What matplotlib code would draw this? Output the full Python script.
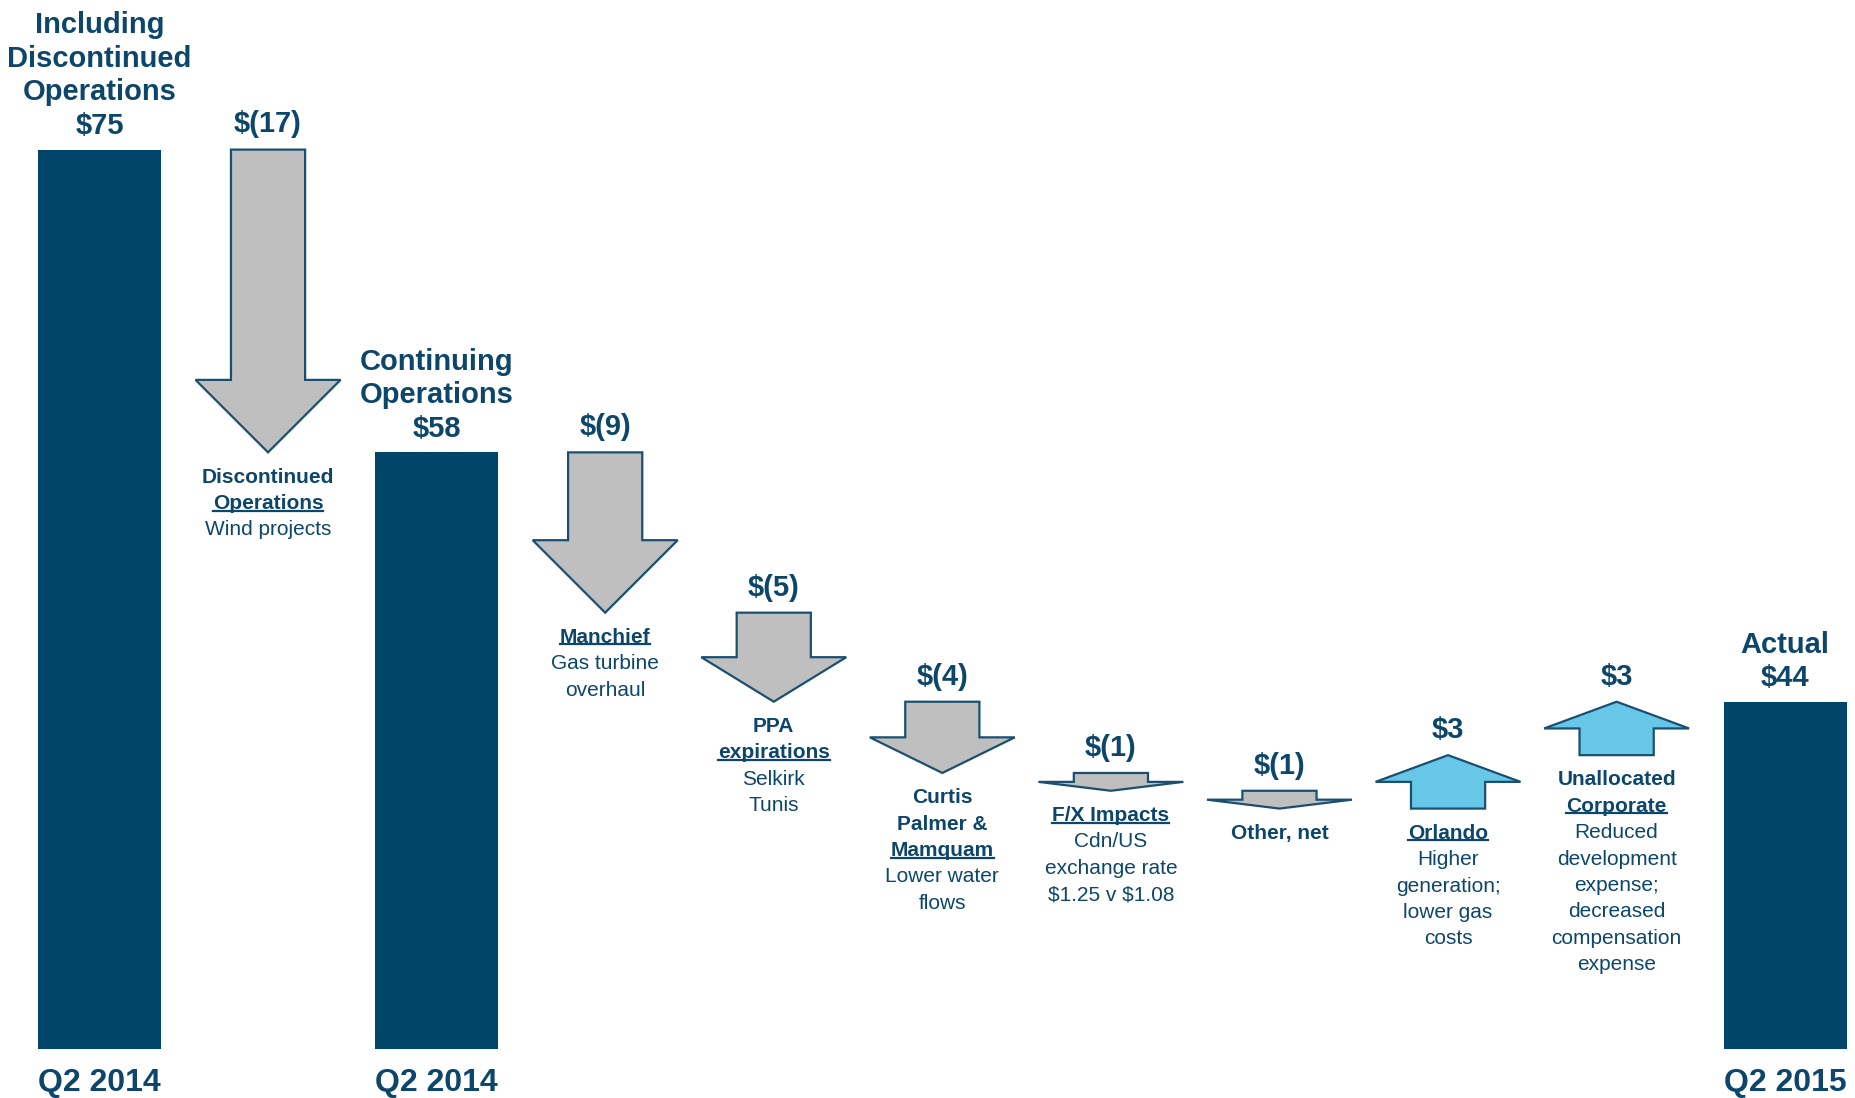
import matplotlib
matplotlib.use('Agg')
import matplotlib.pyplot as plt
from matplotlib.patches import Polygon, Rectangle
from matplotlib.lines import Line2D

plt.rcParams['font.family'] = ['Liberation Sans', 'DejaVu Sans']

# ---------------- data ----------------
step_kinds = ['total', 'delta', 'total', 'delta', 'delta', 'delta', 'delta',
              'delta', 'delta', 'delta', 'total']
step_values = [75, -17, 58, -9, -5, -4, -1, -1, 3, 3, 44]
value_labels = ['$75', '$(17)', '$58', '$(9)', '$(5)', '$(4)', '$(1)', '$(1)',
                '$3', '$3', '$44']
bar_titles = ['Including\nDiscontinued\nOperations', '', 'Continuing\nOperations',
              '', '', '', '', '', '', '', 'Actual']
period_labels = ['Q2 2014', '', 'Q2 2014', '', '', '', '', '', '', '', 'Q2 2015']
# description lines: (text, bold, underline)
descriptions = [
    [],
    [('Discontinued', True, False), ('Operations', True, True),
     ('Wind projects', False, False)],
    [],
    [('Manchief', True, True), ('Gas turbine', False, False),
     ('overhaul', False, False)],
    [('PPA', True, False), ('expirations', True, True),
     ('Selkirk', False, False), ('Tunis', False, False)],
    [('Curtis', True, False), ('Palmer &', True, False), ('Mamquam', True, True),
     ('Lower water', False, False), ('flows', False, False)],
    [('F/X Impacts', True, True), ('Cdn/US', False, False),
     ('exchange rate', False, False), ('$1.25 v $1.08', False, False)],
    [('Other, net', True, False)],
    [('Orlando', True, True), ('Higher', False, False),
     ('generation;', False, False), ('lower gas', False, False),
     ('costs', False, False)],
    [('Unallocated', True, False), ('Corporate', True, True),
     ('Reduced', False, False), ('development', False, False),
     ('expense;', False, False), ('decreased', False, False),
     ('compensation', False, False), ('expense', False, False)],
    [],
]

# ---------------- style ----------------
NAVY = '#00466A'
TEXT = '#0D466B'
GRAY = '#BFBFBF'
EDGE = '#1A4F72'
LIGHT = '#67C7E6'

W_IN, H_IN, DPI = 18.56, 10.98, 100
fig = plt.figure(figsize=(W_IN, H_IN), dpi=DPI)
ax = fig.add_axes([0, 0, 1, 1])
ax.set_axis_off()

axis_floor = 24.5          # truncated baseline of the bars
XLIM = (-0.59, 10.42)
YLIM = (21.75, 83.4)
ax.set_xlim(*XLIM)
ax.set_ylim(*YLIM)

px_per_x = W_IN * DPI / (XLIM[1] - XLIM[0])
px_per_y = H_IN * DPI / (YLIM[1] - YLIM[0])

bar_w = 0.73
shaft_half = 0.22
head_half = 0.43

BIG = 21
SMALL = 15
underline_texts = []

running = None
for i, (kind, v) in enumerate(zip(step_kinds, step_values)):
    c = i
    if kind == 'total':
        ax.add_patch(Rectangle((c - bar_w / 2, axis_floor), bar_w, v - axis_floor,
                               facecolor=NAVY, edgecolor='none'))
        running = v
        title = bar_titles[i]
        label = (title + '\n' if title else '') + value_labels[i]
        ax.annotate(label, (c, v), xytext=(0, 7), textcoords='offset points',
                    ha='center', va='bottom', fontsize=BIG, fontweight='bold',
                    color=TEXT, linespacing=1.25, parse_math=False)
        if period_labels[i]:
            ax.annotate(period_labels[i], (c, axis_floor), xytext=(0, -14),
                        textcoords='offset points', ha='center', va='top',
                        fontsize=23, fontweight='bold', color=TEXT,
                        parse_math=False)
    else:
        s = running
        e = running + v
        running = e
        hw_y = head_half * px_per_x / px_per_y
        hl = min(0.5 * abs(v), hw_y)
        d = 1 if v > 0 else -1
        neck = e - d * hl
        pts = [(c - shaft_half, s), (c + shaft_half, s), (c + shaft_half, neck),
               (c + head_half, neck), (c, e), (c - head_half, neck),
               (c - shaft_half, neck)]
        ax.add_patch(Polygon(pts, closed=True,
                             facecolor=LIGHT if v > 0 else GRAY,
                             edgecolor=EDGE, linewidth=1.6, joinstyle='miter'))
        top = max(s, e)
        bottom = min(s, e)
        ax.annotate(value_labels[i], (c, top), xytext=(0, 8),
                    textcoords='offset points', ha='center', va='bottom',
                    fontsize=BIG, fontweight='bold', color=TEXT,
                    parse_math=False)
        for k, (txt, bold, ul) in enumerate(descriptions[i]):
            t = ax.annotate(txt, (c, bottom), xytext=(0, -11 - 19 * k),
                            textcoords='offset points', ha='center', va='top',
                            fontsize=SMALL,
                            fontweight='bold' if bold else 'normal',
                            color=TEXT, parse_math=False)
            if ul:
                underline_texts.append(t)

# underlines
renderer = fig.canvas.get_renderer()
FW, FH = W_IN * DPI, H_IN * DPI
for t in underline_texts:
    bb = t.get_window_extent(renderer)
    y = bb.y0 + 0.13 * bb.height
    fig.add_artist(Line2D([bb.x0 / FW, bb.x1 / FW], [y / FH, y / FH],
                          transform=fig.transFigure, color=TEXT, lw=1.6))

fig.savefig('out.png', dpi=DPI)
